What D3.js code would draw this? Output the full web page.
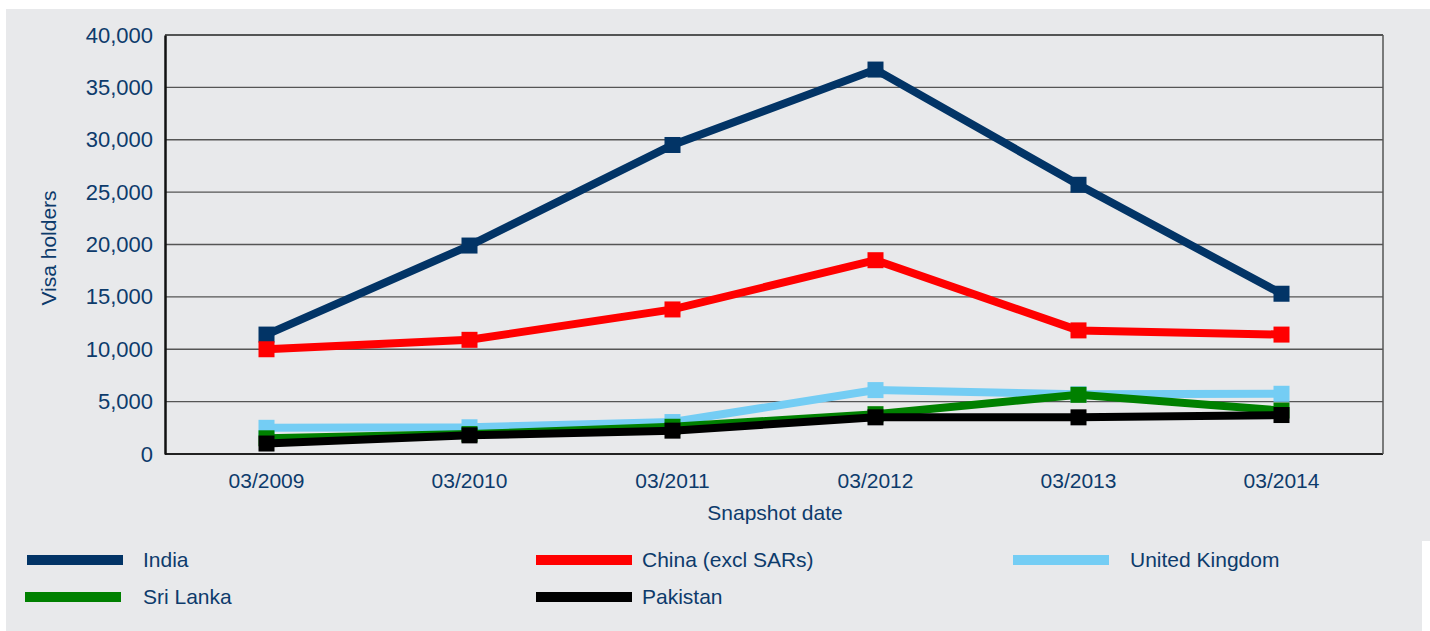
<!DOCTYPE html>
<html>
<head>
<meta charset="utf-8">
<script src="https://cdn.jsdelivr.net/npm/d3@7"></script>
<style>
  body { margin: 0; background: #ffffff; }
  text { font-family: "Liberation Sans", Arial, sans-serif; fill: #0d3b6b; }
</style>
</head>
<body>
<div id="chart"></div>
<script>
// snapshot dates (x categories)
var dates = ["03/2009", "03/2010", "03/2011", "03/2012", "03/2013", "03/2014"];
// y tick values
var yTicks = [0, 5000, 10000, 15000, 20000, 25000, 30000, 35000, 40000];

// series values
var india = [11400, 19900, 29500, 36700, 25700, 15300];
var china = [10000, 10900, 13800, 18500, 11800, 11400];
var uk = [2500, 2550, 3050, 6100, 5700, 5750];
var sriLanka = [1500, 1900, 2600, 3800, 5650, 4150];
var pakistan = [1000, 1780, 2230, 3500, 3500, 3720];

var names = ["India", "China (excl SARs)", "United Kingdom", "Sri Lanka", "Pakistan"];
var colors = ["#023466", "#ff0000", "#74cdf4", "#008000", "#000000"];
var values = [india, china, uk, sriLanka, pakistan];

var width = 1430,
  height = 631;
var plot = { left: 165, top: 35, right: 1383, bottom: 454 };

var svg = d3
  .select("#chart")
  .append("svg")
  .attr("width", width)
  .attr("height", height);

// grey panel
svg.append("rect").attr("x", 6).attr("y", 9).attr("width", 1424).attr("height", 532).attr("fill", "#e8e9eb");
svg.append("rect").attr("x", 6).attr("y", 540).attr("width", 1416).attr("height", 91).attr("fill", "#e8e9eb");

var x = d3.scaleBand().domain(dates).range([plot.left, plot.right]);
var y = d3.scaleLinear().domain([0, 40000]).range([plot.bottom, plot.top]);

// horizontal gridlines
svg
  .append("g")
  .selectAll("line")
  .data(yTicks)
  .enter()
  .append("line")
  .attr("x1", plot.left)
  .attr("x2", plot.right)
  .attr("y1", (d) => y(d))
  .attr("y2", (d) => y(d))
  .attr("stroke", (d) => (d == 0 || d == 40000 ? "#222" : "#555"))
  .attr("stroke-width", (d) => (d == 0 ? 2 : 1.3));

// right border
svg.append("line").attr("x1", plot.right).attr("x2", plot.right)
  .attr("y1", plot.top).attr("y2", plot.bottom)
  .attr("stroke", "#555").attr("stroke-width", 1.5);

// y axis
var yAxis = svg
  .append("g")
  .attr("transform", "translate(" + plot.left + ",0)")
  .call(d3.axisLeft(y).tickValues(yTicks).tickSize(0).tickPadding(12).tickFormat(d3.format(",")));
yAxis.select(".domain").attr("stroke", "#111").attr("stroke-width", 2.5);
yAxis.selectAll("text").attr("font-size", "22px").style("fill", "#0d3b6b");

// x axis labels
var xAxis = svg
  .append("g")
  .attr("transform", "translate(0," + plot.bottom + ")")
  .call(d3.axisBottom(x).tickSize(0).tickPadding(19));
xAxis.select(".domain").remove();
xAxis.selectAll("text").attr("font-size", "21px").style("fill", "#0d3b6b");

// axis titles
svg.append("text")
  .attr("transform", "translate(56,248) rotate(-90)")
  .attr("text-anchor", "middle")
  .attr("font-size", "21px")
  .text("Visa holders");
svg.append("text")
  .attr("x", 775)
  .attr("y", 520)
  .attr("text-anchor", "middle")
  .attr("font-size", "21px")
  .text("Snapshot date");

var line = d3
  .line()
  .x((d, i) => x(dates[i]) + x.bandwidth() / 2)
  .y((d) => y(d));

// lines and square markers
values.forEach((series, k) => {
  var g = svg.append("g");
  g.append("path")
    .attr("d", line(series))
    .attr("fill", "none")
    .attr("stroke", colors[k])
    .attr("stroke-width", 8);
  g.selectAll("rect")
    .data(series)
    .enter()
    .append("rect")
    .attr("x", (d, i) => x(dates[i]) + x.bandwidth() / 2 - 8)
    .attr("y", (d) => y(d) - 8)
    .attr("width", 16)
    .attr("height", 16)
    .attr("fill", colors[k]);
});

// legend
var legendX = [27, 536, 1013, 25, 536];
var legendY = [560, 560, 560, 597, 597];
var textX = [116, 106, 117, 118, 106];
var legend = svg
  .append("g")
  .selectAll("g")
  .data(names)
  .enter()
  .append("g")
  .attr("transform", (d, i) => "translate(" + legendX[i] + "," + legendY[i] + ")");
legend.append("rect")
  .attr("x", 0)
  .attr("y", -5)
  .attr("width", 96)
  .attr("height", 10)
  .attr("fill", (d, i) => colors[i]);
legend.append("text")
  .attr("x", (d, i) => textX[i])
  .attr("y", 7)
  .attr("font-size", "21px")
  .text((d) => d);
</script>
</body>
</html>
